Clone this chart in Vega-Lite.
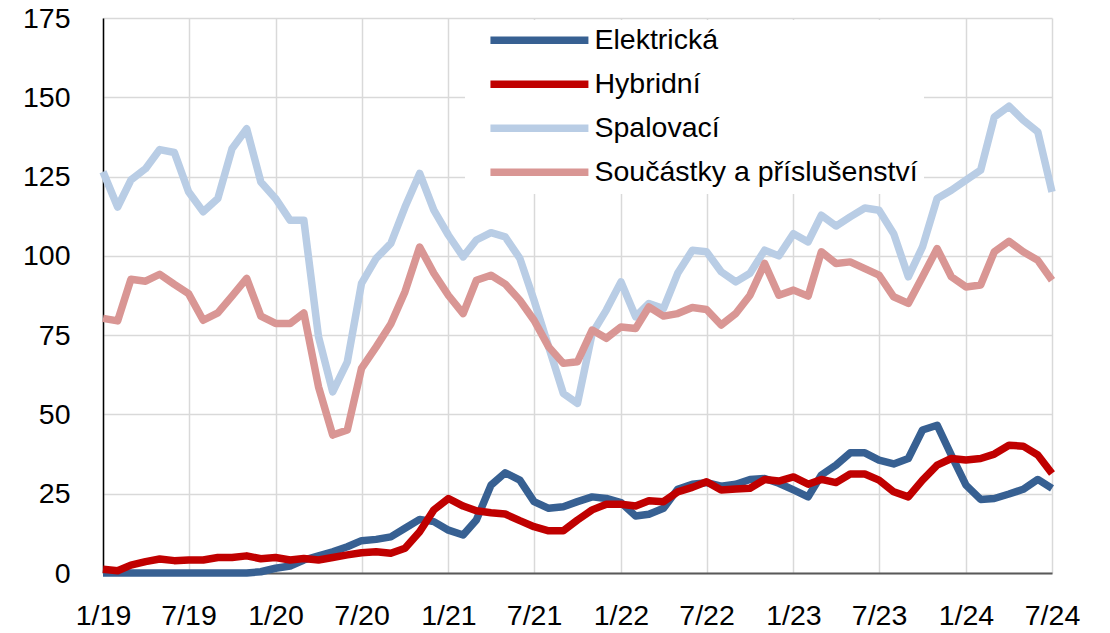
{
 "$schema": "https://vega.github.io/schema/vega-lite/v6.json",
 "width": 949, "height": 555,
 "autosize": {"type": "none"},
 "padding": {"left": 103, "top": 18, "right": 58, "bottom": 60},
 "background": "white",
 "config": {"view": {"stroke": null}, "font": "Liberation Sans"},
 "data": {"values": [
{"d":"2019-01-01","Elektrická":0,"Hybridní":1.2,"Spalovací":126.5,"Součástky a příslušenství":80.3},
{"d":"2019-02-01","Elektrická":0,"Hybridní":0.7,"Spalovací":115.4,"Součástky a příslušenství":79.5},
{"d":"2019-03-01","Elektrická":0,"Hybridní":2.5,"Spalovací":123.9,"Součástky a příslušenství":92.6},
{"d":"2019-04-01","Elektrická":0,"Hybridní":3.6,"Spalovací":127.5,"Součástky a příslušenství":92},
{"d":"2019-05-01","Elektrická":0,"Hybridní":4.4,"Spalovací":133.5,"Součástky a příslušenství":94.2},
{"d":"2019-06-01","Elektrická":0,"Hybridní":3.9,"Spalovací":132.6,"Součástky a příslušenství":91},
{"d":"2019-07-01","Elektrická":0,"Hybridní":4.1,"Spalovací":120.2,"Součástky a příslušenství":88.1},
{"d":"2019-08-01","Elektrická":0,"Hybridní":4.1,"Spalovací":113.9,"Součástky a příslušenství":79.7},
{"d":"2019-09-01","Elektrická":0,"Hybridní":4.9,"Spalovací":118.1,"Součástky a příslušenství":82},
{"d":"2019-10-01","Elektrická":0,"Hybridní":4.9,"Spalovací":133.8,"Součástky a příslušenství":87.3},
{"d":"2019-11-01","Elektrická":0,"Hybridní":5.4,"Spalovací":140.1,"Součástky a příslušenství":92.9},
{"d":"2019-12-01","Elektrická":0.4,"Hybridní":4.5,"Spalovací":123.3,"Součástky a příslušenství":81},
{"d":"2020-01-01","Elektrická":1.5,"Hybridní":4.9,"Spalovací":118.1,"Součástky a příslušenství":78.7},
{"d":"2020-02-01","Elektrická":2.2,"Hybridní":4.1,"Spalovací":111.2,"Součástky a příslušenství":78.7},
{"d":"2020-03-01","Elektrická":4.1,"Hybridní":4.6,"Spalovací":111.2,"Součástky a příslušenství":82},
{"d":"2020-04-01","Elektrická":5.4,"Hybridní":4.1,"Spalovací":74.5,"Součástky a příslušenství":58.7},
{"d":"2020-05-01","Elektrická":6.7,"Hybridní":4.9,"Spalovací":57.1,"Součástky a příslušenství":43.5},
{"d":"2020-06-01","Elektrická":8.3,"Hybridní":5.7,"Spalovací":66.6,"Součástky a příslušenství":45.1},
{"d":"2020-07-01","Elektrická":10.2,"Hybridní":6.4,"Spalovací":91.3,"Součástky a příslušenství":64.5},
{"d":"2020-08-01","Elektrická":10.6,"Hybridní":6.7,"Spalovací":99.2,"Součástky a příslušenství":71.3},
{"d":"2020-09-01","Elektrická":11.4,"Hybridní":6.2,"Spalovací":103.9,"Součástky a příslušenství":78.5},
{"d":"2020-10-01","Elektrická":14.1,"Hybridní":7.8,"Spalovací":115.4,"Součástky a příslušenství":88.7},
{"d":"2020-11-01","Elektrická":16.9,"Hybridní":13,"Spalovací":126,"Součástky a příslušenství":102.8},
{"d":"2020-12-01","Elektrická":16.2,"Hybridní":19.9,"Spalovací":114.4,"Součástky a příslušenství":94.5},
{"d":"2021-01-01","Elektrická":13.5,"Hybridní":23.5,"Spalovací":106.5,"Součástky a příslušenství":87.5},
{"d":"2021-02-01","Elektrická":12,"Hybridní":21.1,"Spalovací":99.7,"Součástky a příslušenství":81.8},
{"d":"2021-03-01","Elektrická":16.7,"Hybridní":19.6,"Spalovací":105,"Součástky a příslušenství":92.3},
{"d":"2021-04-01","Elektrická":27.7,"Hybridní":19,"Spalovací":107.3,"Součástky a příslušenství":93.9},
{"d":"2021-05-01","Elektrická":31.6,"Hybridní":18.6,"Spalovací":106,"Součástky a příslušenství":91.1},
{"d":"2021-06-01","Elektrická":29.3,"Hybridní":16.5,"Spalovací":99.2,"Součástky a příslušenství":86},
{"d":"2021-07-01","Elektrická":22.5,"Hybridní":14.6,"Spalovací":86,"Součástky a příslušenství":79.7},
{"d":"2021-08-01","Elektrická":20.4,"Hybridní":13.3,"Spalovací":71.3,"Součástky a příslušenství":71.3},
{"d":"2021-09-01","Elektrická":20.9,"Hybridní":13.3,"Spalovací":56.6,"Součástky a příslušenství":66.1},
{"d":"2021-10-01","Elektrická":22.5,"Hybridní":16.7,"Spalovací":53.5,"Součástky a příslušenství":66.6},
{"d":"2021-11-01","Elektrická":24,"Hybridní":19.9,"Spalovací":75.5,"Součástky a příslušenství":76.6},
{"d":"2021-12-01","Elektrická":23.5,"Hybridní":21.7,"Spalovací":82.9,"Součástky a příslušenství":74},
{"d":"2022-01-01","Elektrická":22.2,"Hybridní":21.7,"Spalovací":91.8,"Součástky a příslušenství":77.6},
{"d":"2022-02-01","Elektrická":18,"Hybridní":21.1,"Spalovací":80.8,"Součástky a příslušenství":77.1},
{"d":"2022-03-01","Elektrická":18.5,"Hybridní":22.8,"Spalovací":85,"Součástky a příslušenství":83.9},
{"d":"2022-04-01","Elektrická":20.4,"Hybridní":22.5,"Spalovací":83.4,"Součástky a příslušenství":81},
{"d":"2022-05-01","Elektrická":26.4,"Hybridní":25.6,"Spalovací":94.5,"Součástky a příslušenství":81.8},
{"d":"2022-06-01","Elektrická":28,"Hybridní":27,"Spalovací":101.8,"Součástky a příslušenství":83.7},
{"d":"2022-07-01","Elektrická":28.5,"Hybridní":28.8,"Spalovací":101.3,"Součástky a příslušenství":83.1},
{"d":"2022-08-01","Elektrická":27.4,"Hybridní":26.2,"Spalovací":95,"Součástky a příslušenství":78.2},
{"d":"2022-09-01","Elektrická":28,"Hybridní":26.5,"Spalovací":91.8,"Součástky a příslušenství":81.8},
{"d":"2022-10-01","Elektrická":29.5,"Hybridní":26.7,"Spalovací":94.5,"Součástky a příslušenství":87.6},
{"d":"2022-11-01","Elektrická":29.8,"Hybridní":29.5,"Spalovací":101.8,"Součástky a příslušenství":97.6},
{"d":"2022-12-01","Elektrická":28.3,"Hybridní":29,"Spalovací":100,"Součástky a příslušenství":87.6},
{"d":"2023-01-01","Elektrická":26.2,"Hybridní":30.3,"Spalovací":107,"Součástky a příslušenství":89.2},
{"d":"2023-02-01","Elektrická":24,"Hybridní":28,"Spalovací":104.4,"Součástky a příslušenství":87.3},
{"d":"2023-03-01","Elektrická":30.9,"Hybridní":29.5,"Spalovací":112.8,"Součástky a příslušenství":101.3},
{"d":"2023-04-01","Elektrická":34,"Hybridní":28.5,"Spalovací":109.4,"Součástky a příslušenství":97.6},
{"d":"2023-05-01","Elektrická":37.9,"Hybridní":31.2,"Spalovací":112.3,"Součástky a příslušenství":98.1},
{"d":"2023-06-01","Elektrická":37.9,"Hybridní":31.2,"Spalovací":115.1,"Součástky a příslušenství":96},
{"d":"2023-07-01","Elektrická":35.6,"Hybridní":29.3,"Spalovací":114.4,"Součástky a příslušenství":93.9},
{"d":"2023-08-01","Elektrická":34.4,"Hybridní":25.6,"Spalovací":107,"Součástky a příslušenství":87.1},
{"d":"2023-09-01","Elektrická":36.1,"Hybridní":24,"Spalovací":93.4,"Součástky a příslušenství":85},
{"d":"2023-10-01","Elektrická":45.1,"Hybridní":29.3,"Spalovací":102.8,"Součástky a příslušenství":93.4},
{"d":"2023-11-01","Elektrická":46.6,"Hybridní":34,"Spalovací":118.1,"Součástky a příslušenství":102.3},
{"d":"2023-12-01","Elektrická":37.2,"Hybridní":36.1,"Spalovací":120.7,"Součástky a příslušenství":93.4},
{"d":"2024-01-01","Elektrická":27.7,"Hybridní":35.6,"Spalovací":123.9,"Součástky a příslušenství":90.2},
{"d":"2024-02-01","Elektrická":23.2,"Hybridní":36.1,"Spalovací":127,"Součástky a příslušenství":90.8},
{"d":"2024-03-01","Elektrická":23.5,"Hybridní":37.5,"Spalovací":143.8,"Součástky a příslušenství":101.3},
{"d":"2024-04-01","Elektrická":24.9,"Hybridní":40.3,"Spalovací":147.2,"Součástky a příslušenství":104.6},
{"d":"2024-05-01","Elektrická":26.4,"Hybridní":40,"Spalovací":142.8,"Součástky a příslušenství":101.3},
{"d":"2024-06-01","Elektrická":29.5,"Hybridní":37.2,"Spalovací":139.1,"Součástky a příslušenství":98.6},
{"d":"2024-07-01","Elektrická":26.7,"Hybridní":31.4,"Spalovací":120.2,"Součástky a příslušenství":92.3}
 ]},
 "transform": [{"fold": ["Elektrická","Hybridní","Spalovací","Součástky a příslušenství"], "as": ["serie","hodnota"]}],
 "mark": {"type": "line", "strokeWidth": 7.5, "strokeJoin": "round", "strokeCap": "butt"},
 "encoding": {
  "x": {"field": "d", "type": "temporal",
   "scale": {"type": "utc", "domain": [{"year":2019,"month":1,"date":1,"utc":true},{"year":2024,"month":7,"date":1,"utc":true}]},
   "axis": {"title": null, "labelExpr": "utcFormat(datum.value, '%-m/%y')",
    "values": [{"year":2019,"month":1,"date":1,"utc":true},{"year":2019,"month":7,"date":1,"utc":true},{"year":2020,"month":1,"date":1,"utc":true},{"year":2020,"month":7,"date":1,"utc":true},{"year":2021,"month":1,"date":1,"utc":true},{"year":2021,"month":7,"date":1,"utc":true},{"year":2022,"month":1,"date":1,"utc":true},{"year":2022,"month":7,"date":1,"utc":true},{"year":2023,"month":1,"date":1,"utc":true},{"year":2023,"month":7,"date":1,"utc":true},{"year":2024,"month":1,"date":1,"utc":true},{"year":2024,"month":7,"date":1,"utc":true}],
    "grid": true, "gridColor": "#d9d9d9", "gridWidth": 1.5,
    "domainColor": "#595959", "domainWidth": 2, "ticks": false,
    "labelFontSize": 28.5, "labelColor": "#000000", "labelPadding": 28, "labelFlush": false, "labelOverlap": false}},
  "y": {"field": "hodnota", "type": "quantitative",
   "scale": {"domain": [0, 175], "nice": false},
   "axis": {"title": null, "values": [0,25,50,75,100,125,150,175],
    "grid": true, "gridColor": "#d9d9d9", "gridWidth": 1.5,
    "domainColor": "#000000", "domainWidth": 1.5, "ticks": false,
    "labelFontSize": 28.5, "labelColor": "#000000", "labelPadding": 33}},
  "color": {"field": "serie", "type": "nominal",
   "scale": {"domain": ["Elektrická","Hybridní","Spalovací","Součástky a příslušenství"], "range": ["#376092","#C00000","#B9CDE5","#D99694"]},
   "legend": {"title": null, "orient": "none", "legendX": 362, "legendY": 2,
    "fillColor": "white", "padding": 6,
    "symbolType": "M0.53,0H10.53", "symbolSize": 384, "symbolStrokeWidth": 7.5,
    "labelFontSize": 28.5, "labelColor": "#000000", "labelLimit": 0, "labelOffset": 95, "rowPadding": 13}},
  "order": {"value": 0}
 }
}
